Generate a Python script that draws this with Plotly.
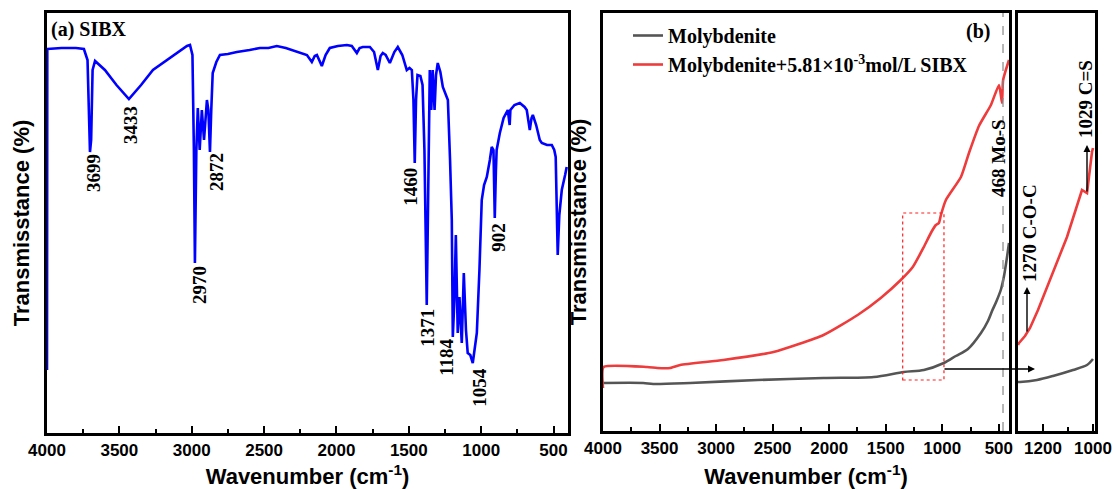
import plotly.graph_objects as go

# ---------------- data (arbitrary transmittance units) ----------------
# Panel (a) SIBX
sibx_wn = [4000, 3998, 3900, 3800, 3745, 3720, 3703, 3695, 3685, 3668, 3600, 3520, 3434, 3350, 3268,
           3171, 3100, 3033, 3012, 2995, 2985, 2978, 2968, 2958, 2945, 2930, 2915, 2895, 2885, 2874,
           2865, 2855, 2830, 2805, 2750, 2688, 2600, 2529, 2470, 2412, 2350, 2274, 2204, 2170, 2150,
           2135, 2101, 2075, 2046, 1990, 1928, 1894, 1859, 1840, 1818, 1769, 1740, 1714, 1695, 1680,
           1660, 1631, 1600, 1576, 1545, 1514, 1495, 1479, 1468, 1459, 1450, 1440, 1420, 1405, 1392,
           1376, 1365, 1355, 1345, 1335, 1322, 1312, 1300, 1282, 1265, 1245, 1230, 1215, 1203, 1196,
           1185, 1175, 1162, 1150, 1134, 1120, 1105, 1093, 1075, 1058, 1045, 1030, 1012, 996, 980,
           961, 940, 927, 915, 906, 898, 893, 871, 845, 816, 808, 803, 798, 770, 733,
           700, 685, 664, 652, 643, 620, 595, 581, 545, 512, 495, 485, 478, 471, 460,
           443, 420, 409]
sibx_t = [63, 384, 385, 385, 384, 373, 281, 293, 363, 372, 363, 348, 334, 348, 363,
          373, 381, 387, 388, 378, 283, 170, 283, 325, 283, 323, 293, 333, 323, 281,
          323, 360, 371, 378, 379, 381, 383, 385, 385, 387, 385, 381, 378, 371, 377,
          378, 367, 378, 385, 387, 388, 387, 380, 385, 386, 386, 381, 363, 377, 380,
          378, 370, 381, 386, 378, 363, 365, 363, 333, 270, 333, 358, 357, 348, 283,
          128, 283, 363, 323, 363, 323, 358, 370, 361, 346, 338, 333, 273, 213, 96,
          133, 198, 100, 136, 90, 160, 103, 80, 78, 70, 83, 100, 163, 233, 248,
          256, 273, 286, 283, 215, 263, 283, 300, 315, 323, 315, 308, 323, 328, 330,
          326, 323, 303, 315, 318, 308, 293, 290, 288, 288, 283, 276, 233, 178, 218,
          243, 258, 266]

sibx_peaks = ["3699", "3433", "2970", "2872", "1460", "1371", "1184", "1054", "902"]

# Panel (b) molybdenite
moly_wn = [4000, 3645, 3556, 3229, 2635, 2050, 1606, 1340, 1163, 986, 880, 773, 658, 596, 560,
           520, 480, 454, 430, 410]
moly_t = [48, 48, 47, 48, 51, 53, 54, 59, 61, 68, 75, 82, 98, 110, 120,
          130, 142, 155, 172, 188]

moly_sibx_wn = [4000, 3995, 3610, 3521, 3406, 3317, 2936, 2493, 2050, 1748, 1544, 1367, 1261,
                1163, 1101, 1057, 1030, 1012, 968, 835, 764, 676, 570, 498, 472, 462, 410]
moly_sibx_t = [43, 64, 64, 63, 63, 66, 71, 79, 96, 116, 133, 151, 164,
               184, 198, 206, 208, 216, 231, 254, 278, 305, 326, 346, 328, 351, 371]

# Inset (1300-1000 cm-1, expanded scale)
inset_moly_wn = [1300, 1292, 1224, 1160, 1080, 1024, 1000]
inset_moly_t = [49, 49, 51, 55, 61, 66, 72]
inset_sibx_wn = [1300, 1296, 1272, 1252, 1220, 1160, 1104, 1044, 1024, 1004, 1000]
inset_sibx_t = [86, 88, 95, 103, 121, 158, 194, 241, 238, 279, 283]

legend_names = ["Molybdenite", "Molybdenite+5.81×10<sup>-3</sup>mol/L SIBX"]

# ---------------- figure ----------------
W, H = 1113, 489
BLUE = "#0000ff"
GRAY = "#555555"
RED = "#ee3b3b"
SERIF = "Liberation Serif"
SANS = "Liberation Sans"

fig = go.Figure()

fig.add_trace(go.Scatter(x=sibx_wn, y=sibx_t, mode="lines", line=dict(color=BLUE, width=2.6),
                         xaxis="x", yaxis="y", showlegend=False))
fig.add_trace(go.Scatter(x=moly_wn, y=moly_t, mode="lines",
                         line=dict(color=GRAY, width=2.6, shape="spline", smoothing=0.8),
                         name=legend_names[0], xaxis="x2", yaxis="y2"))
fig.add_trace(go.Scatter(x=moly_sibx_wn, y=moly_sibx_t, mode="lines",
                         line=dict(color=RED, width=2.6, shape="spline", smoothing=0.5),
                         name=legend_names[1], xaxis="x2", yaxis="y2"))
fig.add_trace(go.Scatter(x=inset_moly_wn, y=inset_moly_t, mode="lines",
                         line=dict(color=GRAY, width=2.6, shape="spline", smoothing=0.8),
                         xaxis="x3", yaxis="y3", showlegend=False))
fig.add_trace(go.Scatter(x=inset_sibx_wn, y=inset_sibx_t, mode="lines", line=dict(color=RED, width=2.6),
                         xaxis="x3", yaxis="y3", showlegend=False))


def px(x):
    return x / W


def py(y):
    return 1 - y / H


tickfont = dict(family=SANS, size=17, color="black", weight="bold")
titlefont = dict(family=SANS, size=22, color="black", weight="bold")

common_x = dict(showline=True, linewidth=2.6, linecolor="black", mirror=True, ticks="inside",
                ticklen=7, tickwidth=2.2, tickcolor="black", showgrid=False, zeroline=False,
                tickfont=tickfont, automargin=False)
common_y = dict(showline=True, linewidth=2.6, linecolor="black", mirror=True, ticks="",
                showticklabels=False, showgrid=False, zeroline=False, automargin=False)

fig.update_layout(
    width=W, height=H, margin=dict(l=0, r=0, t=0, b=0, autoexpand=False),
    paper_bgcolor="white", plot_bgcolor="white",
    xaxis=dict(domain=[px(47), px(568)], range=[4000, 400], dtick=500, tick0=0,
               minor=dict(dtick=250, ticklen=4, ticks="inside", tickwidth=2, tickcolor="black"),
               title=dict(text="Wavenumber (cm<sup>-1</sup>)", font=titlefont, standoff=12),
               anchor="y", **common_x),
    yaxis=dict(domain=[py(433), py(13)], range=[0, 420], anchor="x",
               title=dict(text="Transmisstance (%)", font=titlefont, standoff=9), **common_y),
    xaxis2=dict(domain=[px(603), px(1009)], range=[4000, 410], dtick=500, tick0=0,
                minor=dict(dtick=250, ticklen=4, ticks="inside", tickwidth=2, tickcolor="black"),
                title=dict(text="Wavenumber (cm<sup>-1</sup>)", font=titlefont, standoff=12),
                anchor="y2", **common_x),
    yaxis2=dict(domain=[py(431), py(13)], range=[0, 418], anchor="x2",
                title=dict(text="Transmisstance (%)", font=titlefont, standoff=8), **common_y),
    xaxis3=dict(domain=[px(1018), px(1095)], range=[1300, 992], dtick=200, tick0=0,
                minor=dict(dtick=100, ticklen=4, ticks="inside", tickwidth=2, tickcolor="black"),
                anchor="y3", **common_x),
    yaxis3=dict(domain=[py(431), py(13)], range=[0, 418], anchor="x3", **common_y),
    legend=dict(x=px(628), y=py(16), xanchor="left", yanchor="top", bgcolor="rgba(0,0,0,0)",
                font=dict(family=SERIF, size=20, color="black", weight="bold"),
                tracegroupgap=0, itemwidth=30),
    showlegend=True,
)

# panel (a) labels
fig.add_annotation(x=px(49), y=py(29), xref="paper", yref="paper", text="<b>(a) SIBX</b>",
                   showarrow=False, xanchor="left", yanchor="middle",
                   font=dict(family=SERIF, size=20, color="black"))
label_pos_a = {"3699": (3682, 260), "3433": (3427, 308), "2970": (2950, 148), "2872": (2833, 261),
               "1460": (1493, 246), "1371": (1376, 105), "1184": (1244, 76), "1054": (1017, 46),
               "902": (885, 196)}
for lab in sibx_peaks:
    lx, ly = label_pos_a[lab]
    fig.add_annotation(x=lx, y=ly, xref="x", yref="y", text="<b>" + lab + "</b>", showarrow=False,
                       textangle=-90, xanchor="center", yanchor="middle",
                       font=dict(family=SERIF, size=19, color="black"))

# panel (b)
fig.add_annotation(x=684, y=400, xref="x2", yref="y2", text="<b>(b)</b>", showarrow=False,
                   font=dict(family=SERIF, size=20, color="black"))
fig.add_shape(type="line", x0=463, x1=463, y0=0, y1=1, xref="x2", yref="y2 domain",
              line=dict(color="#888888", width=1.2, dash="dash"))
fig.add_annotation(x=507, y=273, xref="x2", yref="y2", text="<b>468 Mo-S</b>", showarrow=False,
                   textangle=-90, font=dict(family=SERIF, size=19, color="black"))
fig.add_shape(type="rect", x0=1350, x1=985, y0=51, y1=218, xref="x2", yref="y2",
              line=dict(color="#ff2020", width=1.2, dash="dot"))
fig.add_annotation(x=1232, y=62, xref="x3", yref="y3", ax=-92, ay=0, axref="pixel", ayref="pixel",
                   text="", showarrow=True, arrowhead=2, arrowsize=1, arrowwidth=1.4, arrowcolor="black")

# inset annotations
fig.add_annotation(x=1264, y=144, xref="x3", yref="y3", ax=0, ay=46, text="", showarrow=True,
                   arrowhead=2, arrowsize=1, arrowwidth=1.4, arrowcolor="black")
fig.add_annotation(x=1256, y=198, xref="x3", yref="y3", text="<b>1270 C-O-C</b>", showarrow=False,
                   textangle=-90, font=dict(family=SERIF, size=19, color="black"))
fig.add_annotation(x=1024, y=286, xref="x3", yref="y3", ax=0, ay=48, text="", showarrow=True,
                   arrowhead=2, arrowsize=1, arrowwidth=1.4, arrowcolor="black")
fig.add_annotation(x=1032, y=332, xref="x3", yref="y3", text="<b>1029 C=S</b>", showarrow=False,
                   textangle=-90, font=dict(family=SERIF, size=19, color="black"))

fig.write_html("out.html")
